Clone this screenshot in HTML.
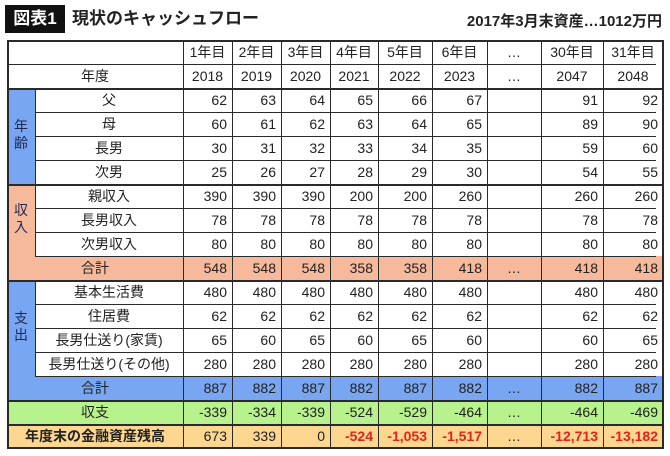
<!DOCTYPE html>
<html><head><meta charset="utf-8">
<style>
body{margin:0;width:670px;height:456px;background:#fff;position:relative;overflow:hidden;font-family:"Liberation Sans","Noto Sans CJK JP",sans-serif;color:#222}
.c{position:absolute;box-sizing:border-box;font-size:14px;line-height:24px;white-space:nowrap}
.l{position:absolute;background:#2a2a2a}
</style></head><body>
<div class="c" style="left:5px;top:5px;width:60px;height:28px;background:#111;color:#fff;font-weight:bold;font-size:17px;line-height:28px;text-align:center">図表1</div>
<div class="c" style="left:72px;top:5px;font-weight:bold;font-size:17px;line-height:28px">現状のキャッシュフロー</div>
<div class="c" style="right:8px;top:10px;font-weight:bold;font-size:15px;line-height:24px">2017年3月末資産…1012万円</div>
<div id="t"></div>
<script>
const yearLabels=["1年目","2年目","3年目","4年目","5年目","6年目","…","30年目","31年目"];
const years=["2018","2019","2020","2021","2022","2023","…","2047","2048"];
const father=[62,63,64,65,66,67,null,91,92];
const mother=[60,61,62,63,64,65,null,89,90];
const son1=[30,31,32,33,34,35,null,59,60];
const son2=[25,26,27,28,29,30,null,54,55];
const parentIncome=[390,390,390,200,200,260,null,260,260];
const son1Income=[78,78,78,78,78,78,null,78,78];
const son2Income=[80,80,80,80,80,80,null,80,80];
const incomeTotal=[548,548,548,358,358,418,"…",418,418];
const living=[480,480,480,480,480,480,null,480,480];
const housing=[62,62,62,62,62,62,null,62,62];
const rent=[65,60,65,60,65,60,null,60,65];
const other=[280,280,280,280,280,280,null,280,280];
const expenseTotal=[887,882,887,882,887,882,"…",882,887];
const balance=[-339,-334,-339,-524,-529,-464,"…",-464,-469];
const assets=[673,339,0,-524,-1053,-1517,"…",-12713,-13182];

const colX=[183,232,281,330,378,432,487,541,603,663];
const T=document.getElementById('t');
function cell(x,y,w,h,txt,bg,align,color,name,bold){
  const d=document.createElement('div');d.className='c';
  
  
  d.style.cssText=`left:${x}px;top:${y}px;width:${w}px;height:${h}px;background:${bg||'transparent'};text-align:${align||'center'};color:${color||'#222'};padding:0 5px;line-height:${h}px;${bold?'font-weight:bold;':''}`;
  if(txt!==null&&txt!==undefined)d.textContent=txt;T.appendChild(d);return d;
}
function line(x,y,w,h){const d=document.createElement('div');d.className='l';
  
  
  d.style.cssText=`left:${x}px;top:${y}px;width:${w}px;height:${h}px`;T.appendChild(d);}
const fmt=v=>typeof v==='number'?v.toLocaleString('en-US'):v;
const BLUE='#79a6f2',SAL='#f6b99c',GRN='#b8f28c',GOLD='#fdd690';
const rows=[
 {y:40,label:'',vals:yearLabels,center:true},
 {y:64,label:'年度',vals:years,center:true},
 {y:88,label:'父',vals:father},{y:112,label:'母',vals:mother},{y:136,label:'長男',vals:son1},{y:160,label:'次男',vals:son2},
 {y:184,label:'親収入',vals:parentIncome},{y:208,label:'長男収入',vals:son1Income},{y:232,label:'次男収入',vals:son2Income},
 {y:256,label:'合計',vals:incomeTotal,bg:SAL,span:true},
 {y:280,label:'基本生活費',vals:living},{y:304,label:'住居費',vals:housing},{y:328,label:'長男仕送り(家賃)',vals:rent},{y:352,label:'長男仕送り(その他)',vals:other},
 {y:376,label:'合計',vals:expenseTotal,bg:BLUE,span:true},
 {y:400,label:'収支',vals:balance,bg:GRN,span:true},
 {y:424,label:'年度末の金融資産残高',vals:assets,bg:GOLD,span:true,red:true,bold:true},
];
cell(7,88,28,96,'',BLUE,'center','#1a2a55','age-group-label');
cell(7,184,28,72,'',SAL,'center','#222','income-group-label');
cell(7,280,28,96,'',BLUE,'center','#1a2a55','expense-group-label');
[['年齢',136],['収入',220],['支出',328]].forEach(([t,cy])=>{
  const d=cell(7,cy-18,28,36,null,null,'center','#1a2a55','group-label-text');
  d.style.lineHeight='17px';d.style.padding='0';d.innerHTML=t[0]+'<br>'+t[1];});
rows.forEach(r=>{
  const lx=(r.span||r.y<88)?7:35;
  cell(lx,r.y,183-lx,24,r.label,r.bg,'center','#222','row-label',r.bold);
  r.vals.forEach((v,i)=>{
    const x=colX[i],w=colX[i+1]-x;
    let col='#222';
    if(r.red&&typeof v==='number'&&v<0)col='#e3231b';
    const al=(r.center||v==='…')?'center':'right';
    cell(x,r.y,w,24,v===null?'':fmt(v),r.bg,al,col,'value-cell',r.bold&&col!=='#222');
  });
});
const hy=[64,112,136,160,208,232,256,280,304,328,352,376];
hy.forEach(y=>{const x0=(y==112||y==136||y==160||y==208||y==232||y==256||y==304||y==328||y==352||y==376)?35:7;line(x0,y,656-x0,1);});
[88,400,424].forEach(y=>line(7,y,656,2));
[184,280].forEach(y=>line(7,y,656,2));
colX.forEach(x=>line(x,40,1,408));
line(35,88,1,168);line(35,280,1,96);
line(7,40,656,2);line(7,447,656,2);line(7,40,2,409);line(662,40,2,409);
</script>
</body></html>
